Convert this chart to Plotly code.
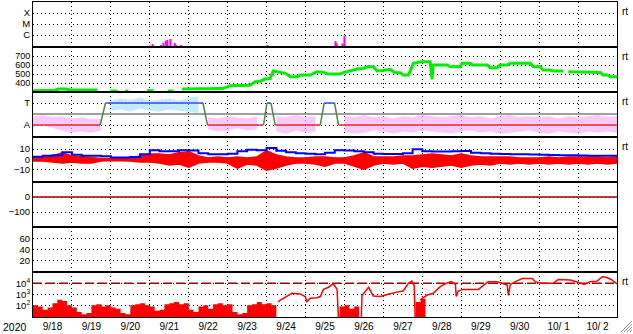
import pandas as pd
import plotly.graph_objects as go
from plotly.subplots import make_subplots

BASE = pd.Timestamp("2020-09-18")
START, END = "2020-09-18", "2020-10-03"

# ---------------- data (t = days since 2020-09-18 00:00) ----------------
# Panel 1: X-ray flux bursts (log10 W/m^2)
xray_t = [3.0, 3.07, 3.29, 3.35, 3.41, 3.45, 3.53, 3.64, 3.67, 3.8, 6.02, 7.77, 7.8, 7.95, 8.0]
xray_log = [-6.97, -6.82, -6.91, -6.7, -6.52, -6.45, -6.36, -6.73, -6.9, -6.91,
            -6.91, -6.55, -6.76, -6.76, -6.06]

# Panel 2: solar wind speed (km/s), None = gap
sw_t = [0.0, 0.31, 0.57, 0.65, 0.85, 0.96, 1.65, None,
        1.98, 2.16, None, 2.37, 2.45, None, 2.93, 3.09, None, 3.47, 3.60, None,
        3.83, 4.04, 4.29, 4.55, 4.89, 5.07, 5.58, 5.71, 5.84, 5.96, 6.09, 6.17, 6.35,
        6.48, 6.61, 6.79, 6.86, 7.12, 7.30, 7.45, 7.56, 7.89, 7.97, 8.33, 8.48, 8.58,
        8.74, 8.84, 8.99, 9.10, 9.17, 9.30, 9.43, 9.51, 9.64, 9.69, 9.77, 9.87, 9.95,
        10.20, 10.25, 10.28, 10.64, 10.72, 10.97, 11.02, 11.23, 11.28, 11.67, 11.74,
        11.92, 12.0, 12.18, 12.26, 12.77, 12.85, 13.03, 13.10, 13.28, 13.36, 13.62, None,
        13.75, 14.23, 14.57, 14.64, 14.75, 14.83, 15.0]
sw_v = [313, 313, 320, 333, 333, 322, 322, None,
        311, 311, None, 311, 311, None, 316, 316, None, 311, 311, None,
        333, 337, 337, 337, 341, 370, 375, 415, 420, 444, 450, 533, 520,
        507, 470, 470, 489, 489, 526, 520, 500, 500, 515, 556, 560, 581,
        581, 533, 540, 552, 552, 515, 515, 489, 489, 530, 619, 625, 637,
        637, 441, 600, 600, 581, 581, 619, 619, 600, 600, 570,
        570, 600, 600, 619, 619, 581, 581, 544, 544, 533, 533, None,
        526, 522, 518, 489, 489, 470, 470]

# Panel 3: sector polarity (T=+1, A=-1) and scatter envelopes
sector_t = [0, 1.726, 1.862, 4.364, 4.482, 5.921, 6.008, 6.111, 6.221, 7.377, 7.480, 7.745, 7.847, 15]
sector_v = [-1, -1, 1, 1, -1, -1, 1, 1, -1, -1, 1, 1, -1, -1]
band_dt = 0.25
pink_hi = [-0.2, -0.1, -0.3, -0.2, -0.4, -0.3, -0.5, -0.4,
           None, None, None, None, None, None, None, None, None, None,
           -0.3, -0.4, -0.2, -0.3, -0.4, -0.2, None,
           -0.2, -0.3, -0.1, -0.3, -0.2, None, None,
           -0.2, -0.3, -0.1, -0.3, -0.2, -0.4, -0.2, -0.3, -0.1, -0.2, -0.3, -0.2, -0.1,
           -0.3, -0.2, -0.4, -0.2, -0.1, -0.3, -0.2, -0.3, -0.2, -0.4, -0.2, -0.3, -0.2,
           -0.1, -0.3, -0.2]
pink_lo = [-1.2, -1.0, -1.3, -1.5, -1.7, -1.6, -1.7, -1.5,
           None, None, None, None, None, None, None, None, None, None,
           -1.4, -1.6, -1.5, -1.3, -1.5, -1.4, None,
           -1.6, -1.8, -1.5, -1.7, -1.6, None, None,
           -1.6, -1.8, -1.7, -1.5, -1.6, -1.8, -1.6, -1.7, -1.5, -1.6, -1.7, -1.8, -1.6,
           -1.5, -1.7, -1.6, -1.8, -1.7, -1.6, -1.5, -1.7, -1.8, -1.6, -1.7, -1.8, -1.6,
           -1.7, -1.6, -1.7]
cyan_t0 = 2.0
cyan_hi = [1.2, 1.4, 1.3, 1.5, 1.2, 1.3, 1.4, 1.2, 1.5, 1.6]
cyan_lo = [0.3, 0.4, 0.2, 0.5, 0.3, 0.2, 0.4, 0.3, 0.2, 0.1]

# Panel 4: IMF Bt (blue) and Bz envelope (red), nT, every 0.25 day
bt = [2.7, 3.7, 4, 7, 4.5, 3.7, 3.7, 3.2, 2, 2, 2.5, 5, 9, 8, 8, 9, 8.6, 6, 5, 5, 5.5,
      8, 9.3, 9, 11, 8.5, 7, 6, 5.5, 5, 6.5, 9, 8.8, 8, 7, 5.5, 5.4, 5.4, 6, 10, 8,
      7.6, 7.6, 8, 8.3, 6.5, 6, 5.6, 5.4, 5, 5, 4.8, 4.5, 4.4, 4.2, 4, 3.8, 3.7, 3.7, 3.7, 3.7]
bz_hi = [2.5, 2.5, 3.4, 6.4, 3.4, 2.5, 1.5, 1.0, 1.0, 1.0, 1.5, 3.4, 5.4, 5.4, 4.4, 6.4,
         7.4, 3.4, 1.5, 2.5, 1.5, 2.5, 1.5, 2.5, 8.3, 4.4, 2.5, 1.5, 1.5, 2.5, 2.5, 1.5,
         1.5, 3.4, 6.4, 2.5, 2.5, 2.5, 3.4, 3.4, 4.4, 5.4, 4.4, 3.4, 5.4, 3.4, 2.5, 2.5,
         2.5, 2.5, 1.5, 1.5, 1.5, 2.5, 1.5, 2.5, 2.5, 2.5, 2.5, 1.5, 2.5]
bz_lo = [-1.5, -1.5, -2.5, -3.4, -2.5, -3.4, -3.4, -1.5, -1.0, -1.0, -1.5, -2.5, -2.5,
         -3.4, -5.4, -4.4, -7.4, -3.4, -2.5, -2.5, -3.4, -8.3, -4.4, -5.4, -10.3, -8.3,
         -5.4, -3.4, -3.4, -4.4, -6.4, -3.4, -3.4, -6.4, -9.3, -5.4, -3.4, -4.4, -3.4,
         -8.3, -6.4, -7.4, -6.4, -5.4, -7.4, -5.4, -4.4, -5.4, -3.4, -4.4, -3.4, -4.4,
         -3.4, -4.4, -3.4, -4.4, -3.4, -4.4, -3.4, -4.4, -3.4]

# Panel 5 (Dst baseline) and panel 6 (empty)
dst_base = 0

# Panel 7: electron flux (log10), noisy bar parts every 1/8 day, and line parts
bar_dt = 0.125
bars1_t0 = 0.0
bars1 = [2.0, 1.9, 1.6, 1.8, 2.2, 2.5, 2.4, 2.0, 1.8, 1.4, 1.2, 1.3, 2.0, 2.1, 1.9, 2.0,
         1.8, 1.7, 1.3, 1.2, 2.0, 2.1, 2.2, 2.0, 1.9, 1.5, 1.6, 2.1, 2.2, 2.3, 2.1, 2.2,
         1.6, 1.4, 1.9, 2.0, 1.7, 2.1, 2.2, 2.0, 2.1, 1.4, 1.2, 1.3, 2.0, 2.1, 2.3, 2.1,
         2.2, 2.0]
bars2_t0 = 7.875
bars2 = [1.9, 2.0, 1.7, 1.9]
bars3_t0 = 9.83
bars3 = [2.3, 2.6]
ef_threshold = 1e4
ef_t = [6.30, 6.35, 6.43, 6.65, 6.86, 6.99, 7.04, 7.12, 7.29, 7.38, 7.46, 7.59, 7.68, 7.72,
        7.81, 7.83, 7.85, None,
        8.43, 8.45, 8.62, 8.74, 8.92, 9.05, 9.17, 9.35, 9.51, 9.64, 9.73, 9.79, 9.82, None,
        9.95, 10.13, 10.28, 10.46, 10.61, 10.74, 10.85, 10.87, 10.92, 11.05, 11.44, 11.54,
        11.69, 11.92, 12.05, 12.18, 12.21, 12.26, 12.39, 12.57, 12.82, 12.90, 13.03, 13.36,
        13.49, 13.80, 14.0, 14.16, 14.31, 14.49, 14.62, 14.72, 14.85, 15.0]
ef_log = [2.3, 2.48, 2.64, 3.09, 3.04, 2.8, 2.33, 2.64, 2.7, 2.8, 3.45, 3.64, 3.9, 3.94,
          3.45, 1.9, 0.5, None,
          0.5, 2.9, 3.64, 2.85, 2.8, 2.9, 3.05, 3.2, 3.3, 4.0, 4.2, 3.8, 0.5, None,
          2.5, 2.94, 3.1, 3.7, 4.0, 4.15, 3.9, 2.8, 3.3, 3.45, 3.45, 3.75,
          4.15, 4.15, 4.0, 3.85, 2.9, 3.9, 4.15, 4.45, 4.45, 4.15, 4.0, 4.0,
          4.35, 4.3, 4.1, 3.9, 4.15, 4.2, 4.6, 4.55, 4.35, 3.95]

date_labels_fmt = "%-m/%e"
rt_rows = [1, 2, 3, 4, 7]


def D(t):
    return None if t is None else BASE + pd.Timedelta(days=t)


def DL(ts):
    return [D(t) for t in ts]


def band_poly(t0, dt, hi, lo):
    """closed polygons (None separated) for contiguous non-None samples"""
    xs, ys = [], []
    seg = []

    def flush():
        if len(seg) > 1:
            xs.extend([D(s[0]) for s in seg] + [D(s[0]) for s in seg[::-1]] + [None])
            ys.extend([s[1] for s in seg] + [s[2] for s in seg[::-1]] + [None])

    for i, (h, l) in enumerate(zip(hi, lo)):
        if h is None:
            flush()
            seg.clear()
        else:
            seg.append((t0 + i * dt, h, l))
    flush()
    return xs, ys


def bar_poly(t0, dt, vals, floor=1.0):
    xs = [D(t0)]
    ys = [floor]
    for i, v in enumerate(vals):
        xs += [D(t0 + i * dt), D(t0 + (i + 1) * dt)]
        ys += [10 ** v, 10 ** v]
    xs += [D(t0 + len(vals) * dt)]
    ys += [floor]
    return xs, ys


FONT = "Liberation Sans, Arial, sans-serif"
fig = make_subplots(rows=7, cols=1, shared_xaxes=True, vertical_spacing=0)

# ---- Panel 1
xs, ys = [], []
for t, lv in zip(xray_t, xray_log):
    xs += [D(t), D(t), None]
    ys += [1e-8, 10 ** lv, None]
fig.add_trace(go.Scatter(x=xs, y=ys, mode="lines", line=dict(color="#ff00ff", width=2),
                         hoverinfo="skip"), row=1, col=1)

# ---- Panel 2
fig.add_trace(go.Scatter(x=DL(sw_t), y=sw_v, mode="lines", line=dict(color="#00ee00", width=3),
                         connectgaps=False), row=2, col=1)

# ---- Panel 3
px_, py_ = band_poly(0.0, band_dt, pink_hi, pink_lo)
fig.add_trace(go.Scatter(x=px_, y=py_, fill="toself", fillcolor="rgba(248,178,248,0.7)",
                         mode="lines", line=dict(width=0)), row=3, col=1)
cx_, cy_ = band_poly(cyan_t0, band_dt, cyan_hi, cyan_lo)
fig.add_trace(go.Scatter(x=cx_, y=cy_, fill="toself", fillcolor="rgba(165,225,250,0.65)",
                         mode="lines", line=dict(width=0)), row=3, col=1)
fig.add_trace(go.Scatter(x=[D(0), D(15)], y=[0, 0], mode="lines",
                         line=dict(color="#808080", width=1.5)), row=3, col=1)
for i in range(len(sector_t) - 1):
    a, b = sector_v[i], sector_v[i + 1]
    col = "#e03030" if (a == b == -1) else ("#3a4cf0" if a == b == 1 else "#4a8a4a")
    fig.add_trace(go.Scatter(x=[D(sector_t[i]), D(sector_t[i + 1])], y=[a, b], mode="lines",
                             line=dict(color=col, width=1.5)), row=3, col=1)

# ---- Panel 4
tq = [i * 0.25 for i in range(len(bt))]
fig.add_trace(go.Scatter(x=[D(0), D(15)], y=[0, 0], mode="lines",
                         line=dict(color="#a00000", width=1.5)), row=4, col=1)
fig.add_trace(go.Scatter(x=DL(tq), y=bz_lo, mode="lines", line=dict(color="#ff0000", width=1.5)),
              row=4, col=1)
fig.add_trace(go.Scatter(x=DL(tq), y=bz_hi, mode="lines", fill="tonexty", fillcolor="#ff0000",
                         line=dict(color="#ff0000", width=1.5)), row=4, col=1)
fig.add_trace(go.Scatter(x=DL(tq), y=bt, mode="lines", line=dict(color="#0000ff", width=2, shape="hv")),
              row=4, col=1)

# ---- Panel 5
fig.add_trace(go.Scatter(x=[D(0), D(15)], y=[dst_base, dst_base], mode="lines",
                         line=dict(color="#a00000", width=1.5)), row=5, col=1)
# ---- Panel 6 (no data)
fig.add_trace(go.Scatter(x=[D(0)], y=[None], mode="lines"), row=6, col=1)

# ---- Panel 7
fig.add_trace(go.Scatter(x=[D(0), D(15)], y=[ef_threshold, ef_threshold], mode="lines",
                         line=dict(color="#a00000", width=1.5, dash="9px,4px")), row=7, col=1)
for t0, vals in [(bars1_t0, bars1), (bars2_t0, bars2), (bars3_t0, bars3)]:
    bx, by = bar_poly(t0, bar_dt, vals)
    fig.add_trace(go.Scatter(x=bx, y=by, fill="toself", fillcolor="#ff0000", mode="lines",
                             line=dict(width=0, color="#ff0000")), row=7, col=1)
fig.add_trace(go.Scatter(x=DL(ef_t), y=[None if v is None else 10 ** v for v in ef_log],
                         mode="lines", line=dict(color="#ff0000", width=1.5), connectgaps=False),
              row=7, col=1)

# ---------------- axes ----------------
grid = dict(showgrid=True, gridcolor="black", gridwidth=1, griddash="1px,3px",
            showline=True, linecolor="black", linewidth=1, mirror=True, zeroline=False,
            ticks="")
yfont = dict(family=FONT, size=9.5, color="black")
for r in range(1, 8):
    fig.update_xaxes(type="date", range=[START, END], dtick=86400000, tick0=START,
                     ticklabelmode="period", tickformat=date_labels_fmt,
                     tickfont=dict(family=FONT, size=10, color="black"),
                     showticklabels=(r == 7), row=r, col=1, **grid)

fig.update_yaxes(type="log", range=[-7.09, -3.0], tickvals=[1e-6, 1e-5, 1e-4],
                 ticktext=["C", "M", "X"], tickfont=yfont, row=1, col=1, **grid)
fig.update_yaxes(range=[300, 800], tickvals=[400, 500, 600, 700],
                 tickfont=dict(family=FONT, size=9, color="black"), row=2, col=1, **grid)
fig.update_yaxes(range=[-2.09, 2.0], tickvals=[-1, 1], ticktext=["A", "T"], tickfont=yfont,
                 row=3, col=1, **grid)
fig.update_yaxes(range=[-21.7, 21.7], tickvals=[-10, 0, 10], tickfont=yfont, row=4, col=1, **grid)
fig.update_yaxes(range=[-200, 100], tickvals=[-100, 0], tickfont=yfont, row=5, col=1, **grid)
fig.update_yaxes(range=[-1.5, 80.5], tickvals=[20, 40, 60], tickfont=yfont, row=6, col=1, **grid)
fig.update_yaxes(type="log", range=[0.94, 5.03], tickvals=[1e2, 1e3, 1e4],
                 ticktext=["10<sup>2</sup>", "10<sup>3</sup>", "10<sup>4</sup>"], tickfont=yfont,
                 row=7, col=1, **grid)

ann = []
for r in rt_rows:
    yref = "y domain" if r == 1 else f"y{r} domain"
    ann.append(dict(text="rt", x=1, xref="paper", xanchor="left", xshift=3, y=1, yref=yref,
                    yanchor="middle", yshift=-9, showarrow=False,
                    font=dict(family=FONT, size=10, color="black")))
ann.append(dict(text="2020", x=0, xref="paper", xanchor="right", xshift=-4, y=0, yref="paper",
                yanchor="top", yshift=-2, showarrow=False, font=dict(family=FONT, size=10.5, color="black")))

# window resize grip (decoration, bottom-right corner)
shapes = []
for k in range(4):
    shapes.append(dict(type="line", xref="paper", yref="paper",
                       x0=1 + (4 + 3 * k) / 584, y0=-15 / 315, x1=1 + 15 / 584, y1=(-15 + 11 - 3 * k) / 315,
                       line=dict(color="#909090", width=1)))
fig.update_layout(width=633, height=334, margin=dict(l=33, r=16, t=2, b=17, autoexpand=False),
                  paper_bgcolor="white", plot_bgcolor="white", showlegend=False,
                  annotations=ann, shapes=shapes, font=dict(family=FONT, size=10, color="black"))
fig.write_html("out.html")
